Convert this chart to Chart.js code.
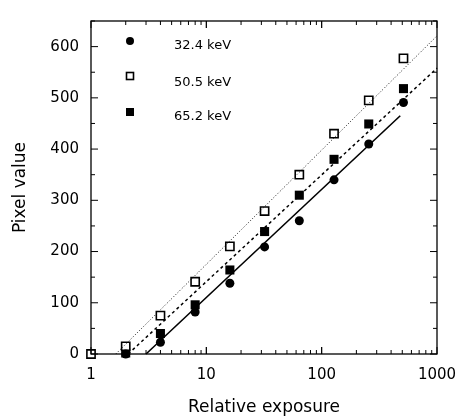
<!DOCTYPE html>
<html>
<head>
<meta charset="utf-8">
<script src="https://cdn.jsdelivr.net/npm/chart.js@4"></script>
<style>
  html, body { margin: 0; padding: 0; background: #fff; }
  #wrap { width: 470px; height: 419px; }
</style>
</head>
<body>
<div id="wrap"><canvas id="myChart"></canvas></div>
<script>
// exposures (log scale)
var exposure = [2, 4, 8, 16, 32, 64, 128, 256, 512];
var exposure505 = [1, 2, 4, 8, 16, 32, 64, 128, 256, 512];

// pixel values
var pix324 = [0, 23, 82, 138, 209, 260, 340, 410, 491];
var pix505 = [0, 15, 75, 141, 210, 279, 350, 430, 495, 577];
var pix652 = [2, 40, 96, 164, 239, 310, 380, 449, 518];

// fitted lines: end points
var fit324X = [3, 480];
var fit324Y = [0, 465];
var fit505X = [1.64, 1000];
var fit505Y = [0, 621];
var fit652X = [2.1, 1000];
var fit652Y = [0, 558];

var xMajor = [1, 10, 100, 1000];
var yMajor = [0, 100, 200, 300, 400, 500, 600];
var legendLabels = ['32.4 keV', '50.5 keV', '65.2 keV'];

function pts(xs, ys) {
    var out = [];
    for (var i = 0; i < xs.length; i++) out.push({ x: xs[i], y: ys[i] });
    return out;
}

var FONT = "'DejaVu Sans', Verdana, sans-serif";

// inward ticks on all four sides + frame + legend
var framePlugin = {
    id: 'frame',
    afterDraw: function (chart) {
        var c = chart.ctx, a = chart.chartArea;
        var xs = chart.scales.x, ys = chart.scales.y;
        c.save();
        c.strokeStyle = '#000';
        c.lineWidth = 1.3;
        c.strokeRect(a.left, a.top, a.right - a.left, a.bottom - a.top);
        c.lineWidth = 1;
        c.beginPath();
        // x ticks (major + minor)
        for (var d = 1; d < 1000; d *= 10) {
            for (var m = 1; m <= 10; m++) {
                var v = d * m;
                var px = xs.getPixelForValue(v);
                var len = (m === 1 || m === 10) ? 7 : 4;
                c.moveTo(px, a.bottom); c.lineTo(px, a.bottom - len);
                c.moveTo(px, a.top); c.lineTo(px, a.top + len);
            }
        }
        // y ticks every 50
        for (var y = 0; y <= 650; y += 50) {
            var py = ys.getPixelForValue(y);
            var l = (y % 100 === 0) ? 7 : 4;
            c.moveTo(a.left, py); c.lineTo(a.left + l, py);
            c.moveTo(a.right, py); c.lineTo(a.right - l, py);
        }
        c.stroke();

        // legend
        var mx = 130, tx = 174, rows = [41, 76, 112], base = [49, 86, 120];
        c.font = '13px ' + FONT;
        c.fillStyle = '#000';
        c.textBaseline = 'alphabetic';
        c.textAlign = 'left';
        c.beginPath(); c.arc(mx, rows[0], 4, 0, Math.PI * 2); c.fill();
        c.fillStyle = '#fff'; c.fillRect(mx - 3.5, rows[1] - 3.5, 7, 7);
        c.lineWidth = 1.6; c.strokeRect(mx - 3.5, rows[1] - 3.5, 7, 7);
        c.fillStyle = '#000'; c.fillRect(mx - 4, rows[2] - 4, 8, 8);
        for (var i = 0; i < legendLabels.length; i++) {
            c.fillText(legendLabels[i], tx, base[i]);
        }
        c.restore();
    }
};

new Chart(document.getElementById('myChart'), {
    type: 'scatter',
    data: {
        datasets: [
            {
                type: 'line', data: pts(fit324X, fit324Y), borderColor: '#000', borderWidth: 1.6,
                pointRadius: 0, fill: false, clip: false
            },
            {
                type: 'line', data: pts(fit505X, fit505Y), borderColor: '#000', borderWidth: 0.9,
                borderDash: [1, 2], pointRadius: 0, fill: false, clip: false
            },
            {
                type: 'line', data: pts(fit652X, fit652Y), borderColor: '#000', borderWidth: 1.5,
                borderDash: [3, 3], pointRadius: 0, fill: false, clip: false
            },
            {
                label: '32.4 keV', data: pts(exposure, pix324), pointStyle: 'circle', pointRadius: 4.5,
                backgroundColor: '#000', borderColor: '#000', borderWidth: 0, clip: false
            },
            {
                label: '50.5 keV', data: pts(exposure505, pix505), pointStyle: 'rect', pointRadius: 5.8,
                backgroundColor: '#fff', borderColor: '#000', borderWidth: 1.6, clip: false
            },
            {
                label: '65.2 keV', data: pts(exposure, pix652), pointStyle: 'rect', pointRadius: 6.4,
                backgroundColor: '#000', borderColor: '#000', borderWidth: 0, clip: false
            }
        ]
    },
    options: {
        responsive: true,
        maintainAspectRatio: false,
        animation: false,
        layout: { padding: { top: 14, right: 33, left: 0, bottom: 0 } },
        plugins: { legend: { display: false }, tooltip: { enabled: false } },
        scales: {
            x: {
                type: 'logarithmic',
                min: 1, max: 1000,
                afterFit: function (s) { s.height = 65; },
                afterBuildTicks: function (s) {
                    s.ticks = xMajor.map(function (v) { return { value: v }; });
                },
                grid: { display: false, drawTicks: false },
                border: { display: false },
                ticks: {
                    color: '#000', padding: 12, maxRotation: 0, autoSkip: false,
                    font: { family: FONT, size: 15 },
                    callback: function (v) { return String(v); }
                },
                title: {
                    display: true, text: 'Relative exposure', color: '#000',
                    font: { family: FONT, size: 17 }, padding: { top: 0, bottom: 1 }
                }
            },
            y: {
                min: 0, max: 650,
                afterFit: function (s) { s.width = 91; },
                afterBuildTicks: function (s) {
                    s.ticks = yMajor.map(function (v) { return { value: v }; });
                },
                grid: { display: false, drawTicks: false },
                border: { display: false },
                ticks: {
                    color: '#000', padding: 12,
                    font: { family: FONT, size: 15 }
                },
                title: {
                    display: true, text: 'Pixel value', color: '#000',
                    font: { family: FONT, size: 17 }, padding: { top: 10, bottom: 0 }
                }
            }
        }
    },
    plugins: [framePlugin]
});
</script>
</body>
</html>
